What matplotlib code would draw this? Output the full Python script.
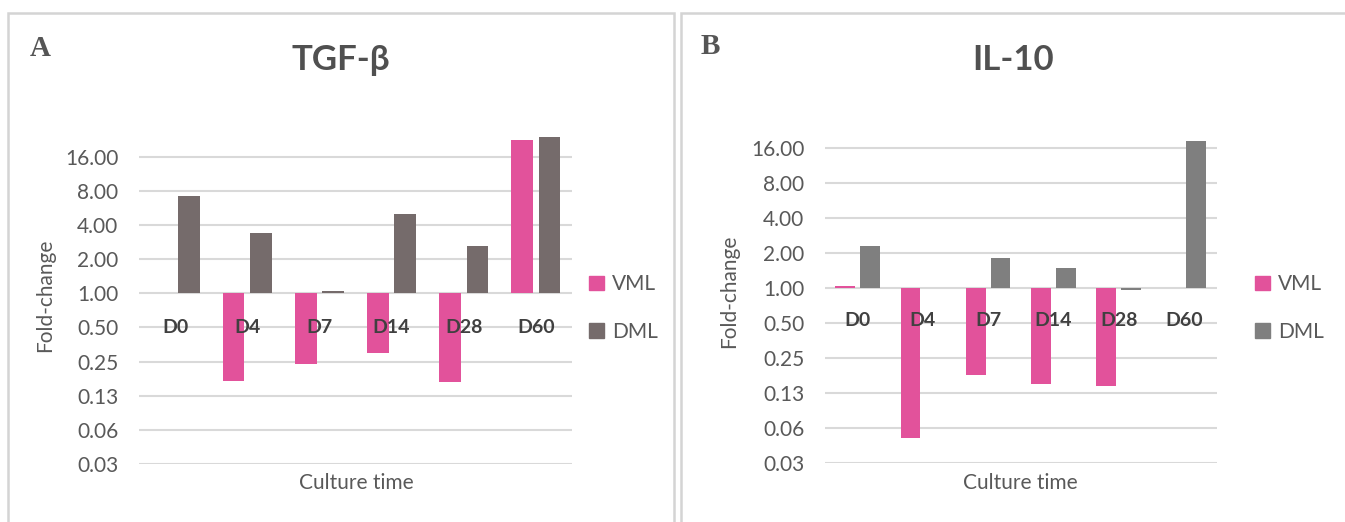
import numpy as np
import matplotlib
matplotlib.use("Agg")
import matplotlib.pyplot as plt
from matplotlib.patches import Rectangle, Patch
from matplotlib.ticker import FixedLocator, FixedFormatter

plt.rcParams['font.family'] = ['Lato', 'DejaVu Sans']

days = ['D0', 'D4', 'D7', 'D14', 'D28', 'D60']
tgf_vml = [1.0, 0.17, 0.24, 0.30, 0.165, 22.5]
tgf_dml = [7.2, 3.4, 1.05, 5.0, 2.6, 24.0]
il10_vml = [1.04, 0.051, 0.18, 0.15, 0.144, 1.0]
il10_dml = [2.3, 1.0, 1.8, 1.5, 0.96, 18.5]
ticks = [2.0 ** k for k in range(-5, 5)]
tick_labels = ['0.03', '0.06', '0.13', '0.25', '0.50', '1.00', '2.00', '4.00', '8.00', '16.00']

pink = '#e2529b'
txt = '#595959'

W, H = 1345, 522
fig = plt.figure(figsize=(W / 100, H / 100), dpi=100)


def px(x0, y0, x1, y1):
    # pixel box (top-left origin) -> figure fraction rect
    return [x0 / W, 1 - y1 / H, (x1 - x0) / W, (y1 - y0) / H]


def panel(rect, title, letter, vml, dml, dml_color, frame, letter_xy, title_xy, ylab_xy, xlab_xy, leg_xy, lab_off):
    fig.add_artist(Rectangle((frame[0] / W, -0.1), (frame[1] - frame[0]) / W, 1 - 13 / H + 0.1,
                             transform=fig.transFigure, fill=False, edgecolor='#d4d4d4', lw=1.8))
    ax = fig.add_axes(rect)
    ax.set_yscale('log', base=2)
    ax.set_ylim(2 ** -5, 2 ** 5)
    ax.set_xlim(-0.5, 5.5)
    x = np.arange(len(days))
    w, off = 0.30, 0.19
    v = np.array(vml)
    d = np.array(dml)
    ax.bar(x - off, v - 1, bottom=1, width=w, color=pink, zorder=3)
    ax.bar(x + off, d - 1, bottom=1, width=w, color=dml_color, zorder=3)
    ax.yaxis.set_major_locator(FixedLocator(ticks))
    ax.yaxis.set_major_formatter(FixedFormatter(tick_labels))
    ax.yaxis.set_minor_locator(FixedLocator([]))
    ax.set_xticks([])
    ax.tick_params(axis='y', length=0, pad=15, labelsize=15, labelcolor=txt)
    ax.grid(axis='y', color='#d9d9d9', lw=1.5, zorder=0)
    for s in ax.spines.values():
        s.set_visible(False)
    ax.patch.set_alpha(0)
    for i, lab in enumerate(days):
        ax.annotate(lab, (i, 1), xytext=(0, lab_off), textcoords='offset pixels',
                    ha='center', va='center', fontsize=14, fontweight='bold', color='#404040', zorder=4)
    fig.text(letter_xy[0] / W, 1 - letter_xy[1] / H, letter, family='Liberation Serif',
             fontweight='bold', fontsize=21, color='#555555', ha='center', va='center')
    fig.text(title_xy[0] / W, 1 - title_xy[1] / H, title, fontweight='bold', fontsize=25,
             color='#505050', ha='center', va='center')
    fig.text(ylab_xy[0] / W, 1 - ylab_xy[1] / H, 'Fold-change', rotation=90, fontsize=15,
             color=txt, ha='center', va='center')
    fig.text(xlab_xy[0] / W, 1 - xlab_xy[1] / H, 'Culture time', fontsize=15,
             color=txt, ha='center', va='center')
    handles = [Patch(color=pink), Patch(color=dml_color)]
    fig.legend(handles, ['VML', 'DML'], loc='center left',
               bbox_to_anchor=(leg_xy[0] / W, 1 - leg_xy[1] / H), frameon=False,
               fontsize=15, labelcolor=txt, handlelength=0.7, handleheight=0.7,
               handletextpad=0.4, labelspacing=1.3, borderpad=0, borderaxespad=0)
    return ax


panel(px(139, 122.7, 572, 464), 'TGF-β', 'A', tgf_vml, tgf_dml, '#756b6b',
      (8, 674), (40, 48), (341, 60), (45, 295), (356, 483), (589, 308), -34)
panel(px(825, 113.3, 1216.5, 463), 'IL-10', 'B', il10_vml, il10_dml, '#7f7f7f',
      (681, 1360), (710, 47), (1013, 60), (729, 291), (1020, 483), (1255, 308), -32)

fig.savefig('out.png', dpi=100)
